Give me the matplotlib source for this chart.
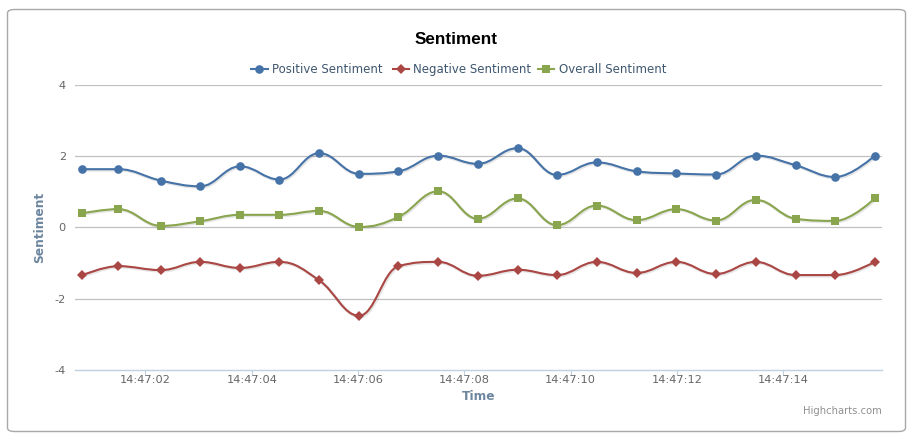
import numpy as np
import matplotlib
matplotlib.use("Agg")
import matplotlib.pyplot as plt
from matplotlib.path import Path
from matplotlib.patches import PathPatch, FancyBboxPatch
from matplotlib.lines import Line2D
import matplotlib.patheffects as pe

# ---- data ----
# time in seconds after 14:47:00
times = [0.80, 1.49, 2.29, 3.03, 3.78, 4.52, 5.27, 6.02, 6.76, 7.51, 8.25,
         9.00, 9.74, 10.49, 11.24, 11.99, 12.73, 13.48, 14.23, 14.98, 15.72]
positive = [1.63, 1.63, 1.31, 1.15, 1.71, 1.34, 2.08, 1.50, 1.57, 2.01, 1.78,
            2.22, 1.47, 1.82, 1.57, 1.51, 1.48, 2.01, 1.74, 1.41, 2.01]
negative = [-1.35, -1.09, -1.20, -0.97, -1.14, -0.97, -1.49, -2.48, -1.09, -0.97, -1.36,
            -1.19, -1.34, -0.97, -1.28, -0.97, -1.31, -0.97, -1.34, -1.34, -0.97]
overall = [0.39, 0.51, 0.04, 0.17, 0.35, 0.35, 0.46, 0.01, 0.29, 1.01, 0.24,
           0.81, 0.06, 0.61, 0.20, 0.51, 0.19, 0.77, 0.24, 0.18, 0.81]
series_names = ["Positive Sentiment", "Negative Sentiment", "Overall Sentiment"]
series_colors = ["#4572A7", "#AA4643", "#89A54E"]
series_markers = ["o", "D", "s"]
xtick_pos = [2, 4, 6, 8, 10, 12, 14]
xtick_labels = ["14:47:02", "14:47:04", "14:47:06", "14:47:08",
                "14:47:10", "14:47:12", "14:47:14"]
ytick_pos = [-4, -2, 0, 2, 4]

W, H = 912, 441
fig = plt.figure(figsize=(W / 100, H / 100), dpi=100)
fig.patch.set_facecolor("white")


def fx(x):
    return x / W


def fy(y):
    return 1 - y / H


def spline_path(xs, ys):
    """Highcharts-style spline (smoothing 1.5) as cubic Bezier path."""
    n = len(xs)
    sm = 1.5
    den = sm + 1
    lc = [None] * n
    rc = [None] * n
    for i in range(1, n - 1):
        px, py = xs[i], ys[i]
        lx, ly = xs[i - 1], ys[i - 1]
        nx, ny = xs[i + 1], ys[i + 1]
        lcx = (sm * px + lx) / den
        lcy = (sm * py + ly) / den
        rcx = (sm * px + nx) / den
        rcy = (sm * py + ny) / den
        corr = 0
        if rcx != lcx:
            corr = (rcy - lcy) * (rcx - px) / (rcx - lcx) + py - rcy
        lcy += corr
        rcy += corr
        if lcy > ly and lcy > py:
            lcy = max(ly, py)
            rcy = 2 * py - lcy
        elif lcy < ly and lcy < py:
            lcy = min(ly, py)
            rcy = 2 * py - lcy
        if rcy > ny and rcy > py:
            rcy = max(ny, py)
            lcy = 2 * py - rcy
        elif rcy < ny and rcy < py:
            rcy = min(ny, py)
            lcy = 2 * py - rcy
        lc[i] = (lcx, lcy)
        rc[i] = (rcx, rcy)
    verts = [(xs[0], ys[0])]
    codes = [Path.MOVETO]
    for i in range(1, n):
        c1 = rc[i - 1] if rc[i - 1] is not None else (xs[i - 1], ys[i - 1])
        c2 = lc[i] if lc[i] is not None else (xs[i], ys[i])
        verts += [c1, c2, (xs[i], ys[i])]
        codes += [Path.CURVE4, Path.CURVE4, Path.CURVE4]
    return Path(verts, codes)


# outer border
border = FancyBboxPatch((fx(7.5), fy(431.5)), fx(905.5) - fx(7.5), fy(9.5) - fy(431.5),
                        boxstyle="round,pad=0,rounding_size=0.008",
                        transform=fig.transFigure, facecolor="none",
                        edgecolor="#a8a8a8", linewidth=1.0, zorder=-5)
fig.patches.append(border)

# axes
left_px, right_px, top_px, bot_px = 75, 882, 84.7, 369.9
ax = fig.add_axes([fx(left_px), fy(bot_px), fx(right_px) - fx(left_px),
                   fy(top_px) - fy(bot_px)])
ax.set_zorder(2)
ax.set_facecolor("none")
ax.set_xlim(0.674, 15.857)
ax.set_ylim(-4, 4)

for s in ["top", "right", "left"]:
    ax.spines[s].set_visible(False)
ax.spines["bottom"].set_color("#C0D0E0")
ax.spines["bottom"].set_linewidth(1.0)

for yv in ytick_pos:
    if yv != -4:
        ax.axhline(yv, color="#C0C0C0", lw=0.9, zorder=1)

ax.set_yticks(ytick_pos)
ax.set_yticklabels([str(v) for v in ytick_pos])
ax.tick_params(axis="y", length=0, pad=6.5, labelsize=8.2, labelcolor="#666666")
ax.set_xticks(xtick_pos)
ax.set_xticklabels(xtick_labels)
ax.tick_params(axis="x", length=3.6, width=0.8, color="#C0D0E0", pad=0.3,
               labelsize=8.2, labelcolor="#666666", direction="out")

all_series = [positive, negative, overall]
for vals, col, mk in zip(all_series, series_colors, series_markers):
    path = spline_path(times, vals)
    patch = PathPatch(path, facecolor="none", edgecolor=col, lw=1.5, zorder=3,
                      capstyle="round", joinstyle="round")
    patch.set_path_effects([
        pe.SimpleLineShadow(offset=(0.7, -0.7), shadow_color="black", alpha=0.10,
                            linewidth=2.2),
        pe.Normal()])
    ax.add_patch(patch)
    ms = 6.2 if mk != "D" else 5.2
    ax.plot(times, vals, linestyle="none", marker=mk, markersize=ms,
            color=col, markeredgewidth=0, zorder=4)

# titles
fig.text(fx(456), fy(40), "Sentiment", ha="center", va="center",
         fontsize=12.3, fontweight="bold", color="black", family="Liberation Sans")
fig.text(fx(478.5), fy(396.5), "Time", ha="center", va="center",
         fontsize=8.8, fontweight="bold", color="#6D869F")
fig.text(fx(40), fy(227.3), "Sentiment", ha="center", va="center", rotation=90,
         fontsize=8.8, fontweight="bold", color="#6D869F")
fig.text(fx(882), fy(411), "Highcharts.com", ha="right", va="center",
         fontsize=7.2, color="#909090")

# legend (manual, Highcharts-like)
sym_centers = [259.5, 401, 546]
text_starts = [272, 413, 559]
for name, col, mk, cx, tx in zip(series_names, series_colors, series_markers,
                                 sym_centers, text_starts):
    fig.add_artist(Line2D([fx(cx - 8), fx(cx + 8)], [fy(69), fy(69)],
                          transform=fig.transFigure, color=col, lw=1.5))
    fig.add_artist(Line2D([fx(cx)], [fy(69)], transform=fig.transFigure,
                          color=col, marker=mk, markeredgewidth=0,
                          markersize=(6.2 if mk != "D" else 5.2)))
    fig.text(fx(tx), fy(73), name, ha="left", va="baseline",
             fontsize=8.5, color="#3E576F")

fig.savefig("out.png", dpi=100)
